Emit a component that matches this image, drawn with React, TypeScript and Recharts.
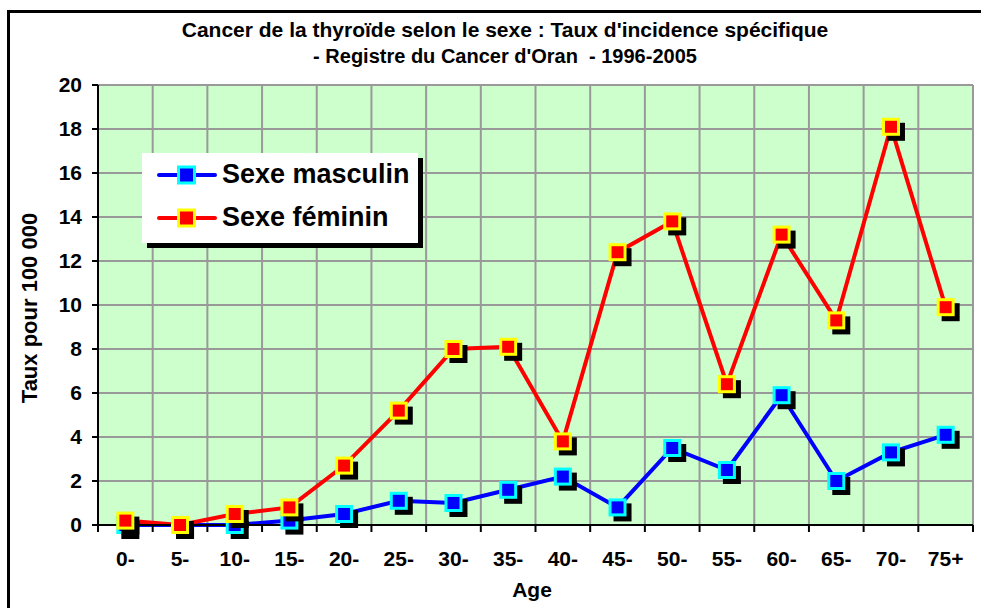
import React from "react";
import {
  CartesianGrid,
  Legend,
  Line,
  LineChart,
  XAxis,
  YAxis,
} from "recharts";

// Tranches d'âge et taux pour 100 000
const ages = ["0-", "5-", "10-", "15-", "20-", "25-", "30-", "35-", "40-", "45-", "50-", "55-", "60-", "65-", "70-", "75+"];
const masculin = [0, 0, 0, 0.2, 0.5, 1.1, 1.0, 1.6, 2.2, 0.8, 3.5, 2.5, 5.9, 2.0, 3.3, 4.1];
const feminin = [0.2, 0, 0.5, 0.8, 2.7, 5.2, 8.0, 8.1, 3.8, 12.4, 13.8, 6.4, 13.2, 9.3, 18.1, 9.9];
const yTicks = [0, 2, 4, 6, 8, 10, 12, 14, 16, 18, 20];

const data = ages.map((age, i) => ({ age, masculin: masculin[i], feminin: feminin[i] }));

const FONT = "'Liberation Sans', Arial, sans-serif";
const W = 981;
const H = 608;
const PLOT = { left: 98, top: 85, right: 973, bottom: 525 };
const Y_AXIS_W = 60;
const X_AXIS_H = 30;
const BAND = (PLOT.right - PLOT.left) / ages.length;
const TICK_FS = 21;

const SERIES = {
  masculin: { line: "#0000ff", fill: "#0000ff", border: "#00ffff", name: "Sexe masculin" },
  feminin: { line: "#ff0000", fill: "#ff0000", border: "#ffff00", name: "Sexe féminin" },
};

// marqueur carré avec ombre portée noire, façon Excel
function makeDot(fill: string, border: string) {
  return (props: any) => {
    const { cx, cy, index } = props;
    if (cx == null || cy == null) return <g key={index} />;
    return (
      <g key={index}>
        <rect x={cx - 4} y={cy - 4} width={18} height={18} fill="#000" />
        <rect x={cx - 7.5} y={cy - 7.5} width={15} height={15} fill={fill} stroke={border} strokeWidth={3} />
      </g>
    );
  };
}

function AgeTick(props: any) {
  const { x, y, payload, index } = props;
  const last = index === ages.length - 1;
  return (
    <g>
      <line x1={x - BAND / 2} x2={x - BAND / 2} y1={y - 8} y2={y - 1} stroke="#000" strokeWidth={2} />
      {last ? (
        <line x1={x + BAND / 2} x2={x + BAND / 2} y1={y - 8} y2={y - 1} stroke="#000" strokeWidth={2} />
      ) : null}
      <text x={x} y={y + 18} dy="0.71em" textAnchor="middle" fontFamily={FONT} fontWeight="bold" fontSize={TICK_FS} fill="#000">
        {payload.value}
      </text>
    </g>
  );
}

function LegendBox() {
  const rows = [SERIES.masculin, SERIES.feminin];
  return (
    <div
      style={{
        background: "#fff",
        boxShadow: "5px 5px 0 #000",
        width: 276,
        height: 90,
        boxSizing: "border-box",
        padding: "0 0 0 15px",
      }}
    >
      {rows.map((s) => (
        <div key={s.name} style={{ display: "flex", alignItems: "center", height: 43 }}>
          <svg width={60} height={22} style={{ marginRight: 5, flex: "none" }}>
            <line x1={2} x2={58} y1={11} y2={11} stroke={s.line} strokeWidth={4} strokeLinecap="round" />
            <rect x={21.5} y={3} width={16} height={16} fill={s.fill} stroke={s.border} strokeWidth={3} />
          </svg>
          <span style={{ fontFamily: FONT, fontWeight: "bold", fontSize: 27, color: "#000", whiteSpace: "nowrap" }}>
            {s.name}
          </span>
        </div>
      ))}
    </div>
  );
}

export default function App() {
  return (
    <div style={{ position: "fixed", left: 0, top: 0, width: W, height: H, overflow: "hidden", background: "#fff" }}>
      <div
        style={{
          position: "absolute",
          left: 7,
          top: 10,
          width: 1100,
          height: 800,
          border: "3px solid #000",
        }}
      />
      <div
        style={{
          position: "absolute",
          left: 0,
          width: 1010,
          top: 16,
          textAlign: "center",
          fontFamily: FONT,
          fontWeight: "bold",
          lineHeight: "27px",
          color: "#000",
        }}
      >
        <div style={{ fontSize: 21 }}>Cancer de la thyroïde selon le sexe : Taux d'incidence spécifique</div>
        <div style={{ fontSize: 20 }}>- Registre du Cancer d'Oran&nbsp; - 1996-2005</div>
      </div>
      <div
        style={{
          position: "absolute",
          left: 30,
          top: 308,
          transform: "translate(-50%, -50%) rotate(-90deg)",
          whiteSpace: "nowrap",
          fontFamily: FONT,
          fontWeight: "bold",
          fontSize: 22,
          color: "#000",
        }}
      >
        Taux pour 100 000
      </div>
      <div
        style={{
          position: "absolute",
          left: 532,
          top: 590,
          transform: "translate(-50%, -50%)",
          fontFamily: FONT,
          fontWeight: "bold",
          fontSize: 21,
          color: "#000",
        }}
      >
        Age
      </div>
      <div style={{ position: "absolute", left: 0, top: 0 }}>
        <LineChart
          width={W}
          height={H}
          data={data}
          margin={{
            left: PLOT.left - Y_AXIS_W,
            top: PLOT.top,
            right: W - PLOT.right,
            bottom: H - PLOT.bottom - X_AXIS_H,
          }}
        >
          <CartesianGrid
            fill="#ccffcc"
            stroke="#999999"
            strokeWidth={2}
            verticalCoordinatesGenerator={({ offset }: any) =>
              Array.from({ length: ages.length + 1 }, (_, k) => offset.left + (k * offset.width) / ages.length)
            }
          />
          <XAxis
            dataKey="age"
            scale="band"
            height={X_AXIS_H}
            axisLine={{ stroke: "#000", strokeWidth: 2 }}
            tickLine={false}
            interval={0}
            tick={<AgeTick />}
          />
          <YAxis
            domain={[0, 20]}
            ticks={yTicks}
            width={Y_AXIS_W}
            axisLine={{ stroke: "#000", strokeWidth: 2 }}
            tickLine={{ stroke: "#000", strokeWidth: 2 }}
            tickSize={6}
            tickMargin={10}
            tick={{ fontFamily: FONT, fontWeight: "bold", fontSize: TICK_FS, fill: "#000" }}
          />
          <Legend
            layout="vertical"
            align="center"
            verticalAlign="middle"
            wrapperStyle={{ left: 142, top: 153, width: 282 }}
            content={<LegendBox />}
          />
          <Line
            dataKey="masculin"
            name={SERIES.masculin.name}
            stroke={SERIES.masculin.line}
            strokeWidth={4}
            dot={makeDot(SERIES.masculin.fill, SERIES.masculin.border)}
            activeDot={false}
            isAnimationActive={false}
          />
          <Line
            dataKey="feminin"
            name={SERIES.feminin.name}
            stroke={SERIES.feminin.line}
            strokeWidth={4}
            dot={makeDot(SERIES.feminin.fill, SERIES.feminin.border)}
            activeDot={false}
            isAnimationActive={false}
          />
        </LineChart>
      </div>
    </div>
  );
}
